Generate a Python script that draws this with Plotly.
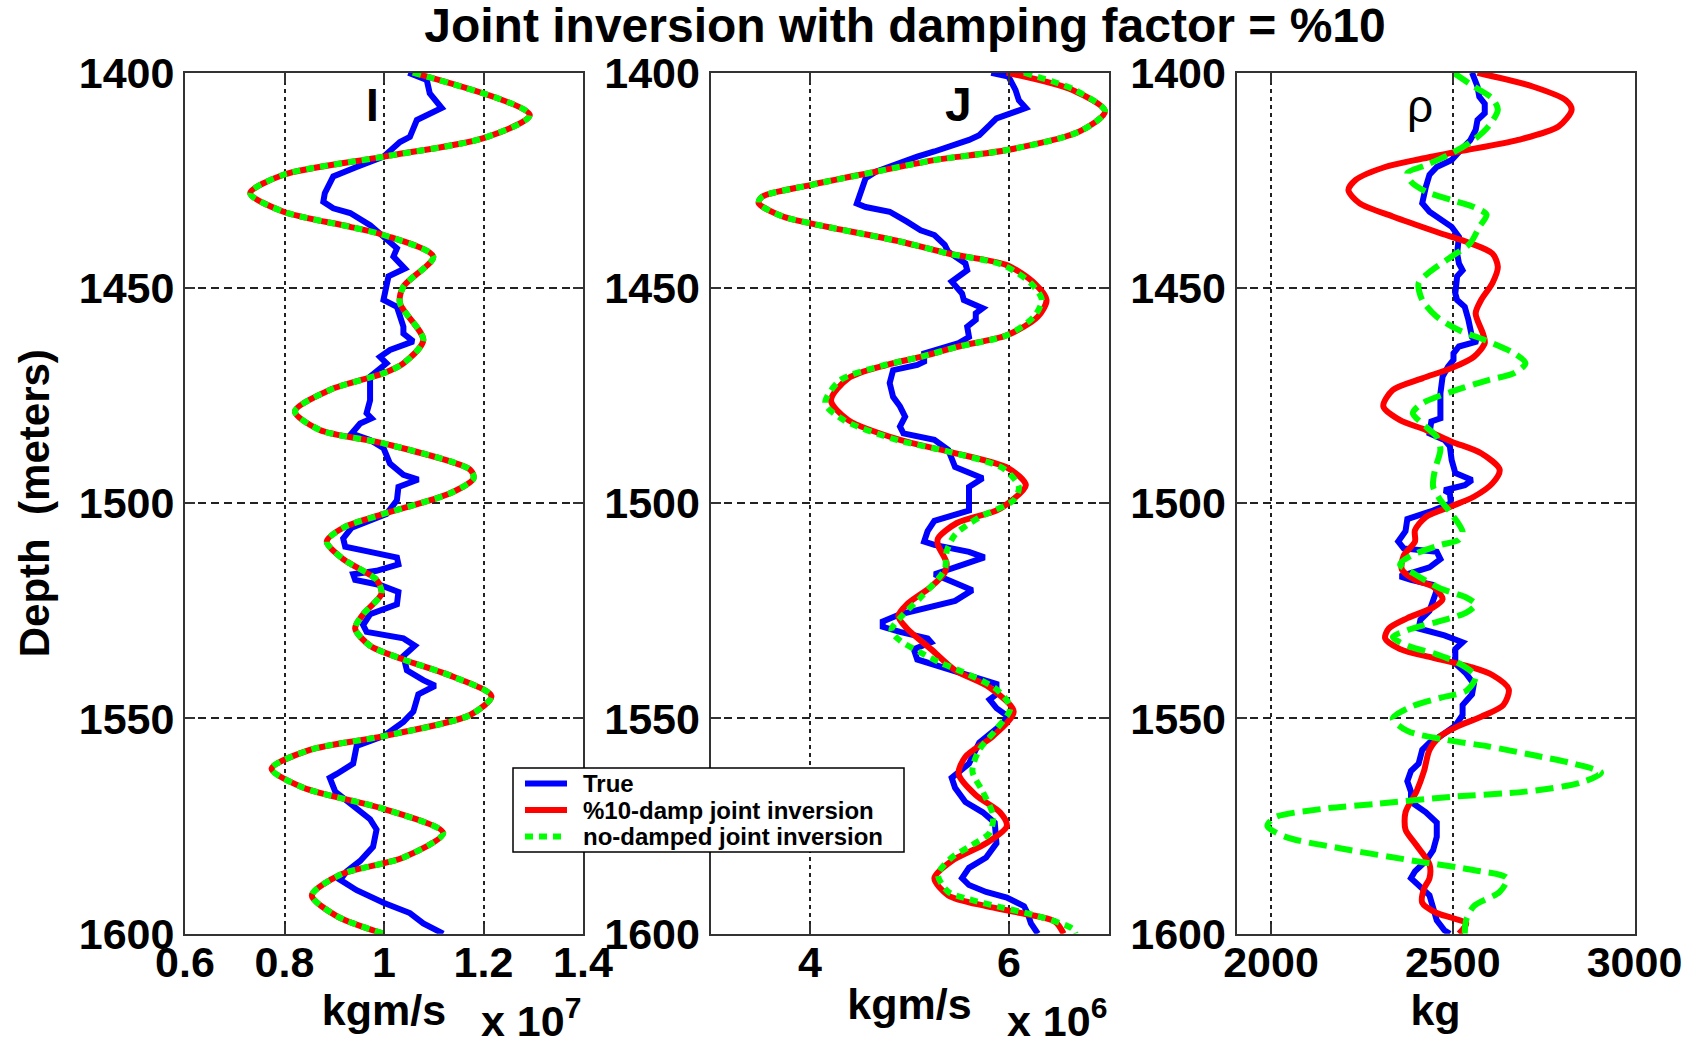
import plotly.graph_objects as go

# Depth (m), value pairs read along each log.
# Panel I: acoustic impedance in units of 1e7 kg m/s
I_TRUE = [(1400, 1.049), (1401.7, 1.086), (1404.8, 1.092), (1408.2, 1.116), (1411.0, 1.066), (1414.9, 1.052),
          (1416.1, 1.032), (1419.5, 0.999), (1421.9, 0.945), (1424.1, 0.898), (1428.0, 0.881), (1430.0, 0.878),
          (1431.5, 0.898), (1432.6, 0.932), (1435.4, 0.972), (1438.8, 1.005), (1440.8, 1.026), (1442.7, 1.019),
          (1445.5, 1.042), (1447.3, 1.009), (1451.3, 1.002), (1452.8, 0.999), (1454.4, 1.026), (1459.0, 1.039),
          (1460.6, 1.039), (1462.4, 1.059), (1464.4, 1.012), (1466.0, 0.992), (1467.5, 1.005), (1470.6, 0.972),
          (1476.1, 0.972), (1479.1, 0.965), (1480.3, 0.975), (1481.5, 0.952), (1483.8, 0.935), (1485.3, 0.972),
          (1487.2, 0.999), (1490.8, 1.012), (1493.4, 1.039), (1494.5, 1.069), (1496.2, 1.029), (1499.3, 1.026),
          (1502.5, 1.005), (1504.1, 0.972), (1505.7, 0.935), (1508.2, 0.918), (1510.1, 0.922), (1511.3, 0.972),
          (1512.6, 1.026), (1514.2, 1.029), (1515.7, 0.985), (1516.5, 0.938), (1517.8, 0.942), (1519.0, 0.992),
          (1520.6, 1.029), (1523.5, 1.026), (1525.8, 0.972), (1528.3, 0.958), (1529.9, 0.965), (1531.4, 1.039),
          (1533.1, 1.062), (1535.5, 1.039), (1538.8, 1.046), (1541.1, 1.079), (1542.4, 1.103), (1544.4, 1.069),
          (1548.4, 1.059), (1550.8, 1.039), (1554.1, 0.999), (1556.4, 0.945), (1560.5, 0.938), (1562.9, 0.905),
          (1563.8, 0.891), (1567.0, 0.902), (1570.2, 0.935), (1573.4, 0.972), (1575.8, 0.985), (1579.8, 0.978),
          (1583.1, 0.952), (1585.5, 0.925), (1587.5, 0.912), (1589.9, 0.945), (1592.8, 0.999), (1595.2, 1.052),
          (1597.6, 1.079), (1600, 1.119)]
I_DAMP = [(1400, 1.058), (1409.8, 1.293), (1415.2, 1.200), (1419.5, 0.999), (1423.7, 0.798), (1428.0, 0.731),
          (1432.3, 0.798), (1435.8, 0.932), (1437.7, 0.999), (1442.7, 1.099), (1449.7, 1.039), (1453.5, 1.032),
          (1462.1, 1.079), (1467.5, 1.039), (1469.8, 0.999), (1473.7, 0.891), (1478.7, 0.821), (1483.0, 0.871),
          (1486.1, 0.999), (1492.2, 1.173), (1494.2, 1.180), (1497.7, 1.133), (1502.5, 0.999), (1505.7, 0.918),
          (1508.9, 0.885), (1513.0, 0.918), (1517.8, 0.985), (1521.0, 0.995), (1525.8, 0.958), (1529.1, 0.942),
          (1533.1, 0.972), (1536.3, 1.039), (1540.3, 1.139), (1544.8, 1.216), (1549.2, 1.173), (1554.1, 0.999),
          (1557.3, 0.851), (1561.7, 0.774), (1566.1, 0.838), (1571.0, 0.999), (1576.6, 1.119), (1582.3, 1.039),
          (1586.3, 0.912), (1591.1, 0.855), (1595.9, 0.905), (1600, 0.999)]
I_NODAMP = [(1400, 1.058), (1409.8, 1.293), (1415.2, 1.200), (1419.5, 0.999), (1423.7, 0.798), (1428.0, 0.731),
            (1432.3, 0.798), (1435.8, 0.932), (1437.7, 0.999), (1442.7, 1.099), (1449.7, 1.039), (1453.5, 1.032),
            (1462.1, 1.079), (1467.5, 1.039), (1469.8, 0.999), (1473.7, 0.891), (1478.7, 0.821), (1483.0, 0.871),
            (1486.1, 0.999), (1492.2, 1.173), (1494.2, 1.180), (1497.7, 1.133), (1502.5, 0.999), (1505.7, 0.918),
            (1508.9, 0.885), (1513.0, 0.918), (1517.8, 0.985), (1521.0, 0.995), (1525.8, 0.958), (1529.1, 0.942),
            (1533.1, 0.972), (1536.3, 1.039), (1540.3, 1.139), (1544.8, 1.216), (1549.2, 1.173), (1554.1, 0.999),
            (1557.3, 0.851), (1561.7, 0.774), (1566.1, 0.838), (1571.0, 0.999), (1576.6, 1.119), (1582.3, 1.039),
            (1586.3, 0.912), (1591.1, 0.855), (1595.9, 0.905), (1600, 0.999)]

# Panel J: shear impedance in units of 1e6 kg m/s
J_TRUE = [(1400, 5.822), (1400.9, 5.995), (1404.0, 6.065), (1406.4, 6.099), (1408.2, 6.169), (1410.6, 5.874),
          (1412.2, 5.805), (1414.5, 5.701), (1415.6, 5.598), (1416.8, 5.458), (1418.3, 5.250), (1419.5, 5.078),
          (1421.1, 4.904), (1423.0, 4.662), (1424.5, 4.559), (1428.0, 4.507), (1430.4, 4.471), (1431.2, 4.559),
          (1432.3, 4.801), (1434.6, 4.974), (1436.6, 5.112), (1437.7, 5.250), (1440.0, 5.354), (1441.6, 5.390),
          (1444.3, 5.562), (1445.9, 5.580), (1448.5, 5.424), (1451.3, 5.528), (1452.8, 5.546), (1454.7, 5.736),
          (1455.9, 5.666), (1457.4, 5.666), (1459.0, 5.580), (1461.4, 5.598), (1462.8, 5.494), (1465.2, 5.147),
          (1467.1, 5.147), (1467.9, 5.078), (1469.1, 4.835), (1472.1, 4.801), (1475.3, 4.835), (1477.5, 4.904),
          (1479.9, 4.956), (1482.2, 4.904), (1483.8, 4.939), (1485.3, 5.250), (1487.6, 5.390), (1491.6, 5.458),
          (1493.0, 5.598), (1494.2, 5.736), (1496.2, 5.598), (1500.0, 5.598), (1501.7, 5.598), (1504.1, 5.250),
          (1506.5, 5.182), (1508.9, 5.147), (1509.7, 5.250), (1511.3, 5.598), (1512.6, 5.753), (1514.6, 5.494),
          (1516.5, 5.250), (1518.2, 5.424), (1520.2, 5.632), (1522.7, 5.458), (1524.6, 5.112), (1525.8, 4.904),
          (1527.5, 4.731), (1528.7, 4.731), (1529.9, 4.904), (1531.4, 5.182), (1532.3, 5.216), (1533.9, 5.043),
          (1536.3, 5.078), (1538.8, 5.424), (1540.3, 5.598), (1542.0, 5.874), (1544.4, 5.874), (1545.6, 5.805),
          (1547.6, 5.874), (1549.6, 5.995), (1551.7, 5.909), (1555.6, 5.701), (1560.5, 5.598), (1563.8, 5.424),
          (1566.1, 5.458), (1569.4, 5.562), (1571.8, 5.736), (1574.2, 5.857), (1579.0, 5.874), (1582.3, 5.770),
          (1584.7, 5.598), (1587.1, 5.528), (1588.7, 5.598), (1590.3, 5.770), (1591.6, 5.978), (1593.6, 6.151),
          (1595.2, 6.186), (1597.6, 6.221), (1600, 6.290)]
J_DAMP = [(1400, 5.978), (1404.0, 6.637), (1409.0, 6.965), (1413.7, 6.705), (1417.9, 5.995), (1420.3, 5.250),
          (1423.0, 4.662), (1426.1, 4.004), (1428.8, 3.520), (1430.3, 3.484), (1433.4, 3.727), (1435.0, 4.004),
          (1439.2, 4.904), (1442.0, 5.390), (1444.7, 5.978), (1448.9, 6.255), (1452.8, 6.377), (1456.7, 6.289),
          (1461.0, 5.978), (1463.6, 5.494), (1466.0, 5.112), (1467.9, 4.766), (1471.0, 4.385), (1476.1, 4.211),
          (1480.7, 4.385), (1485.3, 4.904), (1488.0, 5.390), (1491.9, 5.995), (1495.8, 6.169), (1499.5, 6.020),
          (1501.7, 5.874), (1504.6, 5.476), (1508.2, 5.286), (1509.7, 5.286), (1513.8, 5.372), (1516.1, 5.354),
          (1519.4, 5.216), (1523.5, 4.974), (1526.2, 4.887), (1529.1, 4.974), (1533.9, 5.216), (1538.8, 5.458),
          (1542.8, 5.805), (1548.4, 6.047), (1554.1, 5.840), (1558.9, 5.562), (1562.9, 5.494), (1567.8, 5.666),
          (1571.8, 5.909), (1575.0, 5.978), (1579.0, 5.770), (1583.1, 5.424), (1587.1, 5.250), (1591.1, 5.390),
          (1593.6, 5.770), (1595.2, 6.117), (1597.2, 6.463), (1600, 6.549)]
J_NODAMP = [(1400, 6.151), (1404.0, 6.660), (1409.0, 6.965), (1413.7, 6.705), (1417.9, 5.995), (1420.3, 5.250),
            (1423.0, 4.662), (1426.1, 4.004), (1428.8, 3.520), (1430.3, 3.484), (1433.4, 3.727), (1435.0, 4.004),
            (1439.2, 4.904), (1442.0, 5.390), (1444.7, 5.940), (1448.9, 6.220), (1452.8, 6.330), (1456.7, 6.250),
            (1461.0, 5.978), (1463.6, 5.494), (1466.0, 5.112), (1468.1, 4.720), (1471.5, 4.300), (1476.8, 4.153),
            (1480.7, 4.340), (1485.3, 4.870), (1488.0, 5.390), (1491.9, 5.940), (1496.2, 6.099), (1499.3, 6.047),
            (1503.3, 5.701), (1507.3, 5.458), (1511.3, 5.372), (1515.4, 5.354), (1521.9, 5.112), (1525.8, 4.939),
            (1529.5, 4.818), (1531.9, 4.904), (1534.7, 5.112), (1537.2, 5.320), (1538.8, 5.494), (1543.2, 5.874),
            (1547.6, 6.013), (1552.5, 5.874), (1557.3, 5.701), (1562.2, 5.632), (1567.0, 5.736), (1572.6, 5.840),
            (1576.6, 5.805), (1579.8, 5.598), (1582.3, 5.424), (1586.3, 5.286), (1590.3, 5.390), (1592.0, 5.598),
            (1594.0, 5.944), (1595.9, 6.289), (1598.8, 6.637), (1600, 6.670)]

# Panel rho: density in kg
R_TRUE = [(1400, 2553), (1403.2, 2568), (1405.6, 2573), (1407.2, 2588), (1409.4, 2588), (1411.0, 2568),
          (1413.3, 2563), (1415.7, 2548), (1417.5, 2527), (1420.3, 2497), (1421.9, 2456), (1423.7, 2436),
          (1426.5, 2426), (1430.3, 2416), (1432.3, 2436), (1434.2, 2466), (1435.8, 2497), (1438.1, 2517),
          (1442.0, 2512), (1444.3, 2517), (1445.9, 2527), (1447.3, 2512), (1451.3, 2507), (1452.8, 2512),
          (1454.4, 2533), (1457.4, 2543), (1461.4, 2553), (1462.4, 2568), (1463.6, 2517), (1465.2, 2502),
          (1466.7, 2502), (1468.3, 2487), (1470.6, 2472), (1474.5, 2466), (1478.3, 2466), (1480.3, 2466),
          (1481.0, 2441), (1483.8, 2436), (1485.3, 2477), (1486.8, 2492), (1490.0, 2497), (1493.0, 2507),
          (1494.6, 2553), (1495.8, 2533), (1497.0, 2477), (1497.7, 2492), (1500.0, 2495), (1501.7, 2446),
          (1503.7, 2375), (1506.5, 2370), (1508.9, 2350), (1510.5, 2365), (1511.3, 2456), (1513.0, 2466),
          (1514.9, 2436), (1516.1, 2385), (1517.0, 2355), (1517.8, 2385), (1519.0, 2446), (1520.2, 2456),
          (1522.7, 2446), (1525.0, 2436), (1527.1, 2411), (1529.1, 2406), (1530.7, 2477), (1532.3, 2527),
          (1533.9, 2507), (1537.2, 2507), (1539.6, 2537), (1542.0, 2558), (1544.4, 2553), (1546.9, 2527),
          (1549.2, 2527), (1551.7, 2507), (1554.1, 2466), (1555.6, 2436), (1557.3, 2416), (1560.5, 2406),
          (1562.2, 2385), (1564.6, 2375), (1567.0, 2385), (1569.4, 2385), (1571.8, 2426), (1574.2, 2456),
          (1577.5, 2456), (1580.6, 2446), (1583.1, 2426), (1585.5, 2396), (1587.1, 2385), (1588.8, 2406),
          (1591.1, 2436), (1594.0, 2446), (1596.9, 2456), (1599.2, 2477), (1600, 2492)]
R_DAMP = [(1400, 2568), (1403.2, 2720), (1406.4, 2811), (1408.6, 2827), (1412.5, 2791), (1415.6, 2680),
          (1418.3, 2517), (1420.3, 2396), (1421.9, 2314), (1424.9, 2233), (1427.3, 2213), (1430.3, 2243),
          (1433.4, 2335), (1437.0, 2456), (1439.6, 2548), (1442.0, 2609), (1445.1, 2624), (1448.9, 2609),
          (1452.8, 2578), (1455.9, 2563), (1460.6, 2583), (1462.8, 2588), (1466.0, 2558), (1468.6, 2497),
          (1471.0, 2416), (1473.7, 2335), (1477.5, 2309), (1480.7, 2355), (1483.0, 2426), (1485.7, 2497),
          (1488.4, 2578), (1492.2, 2629), (1495.4, 2609), (1498.5, 2558), (1500.7, 2497), (1503.2, 2426),
          (1506.3, 2396), (1508.9, 2396), (1512.2, 2365), (1515.4, 2360), (1517.8, 2396), (1519.4, 2446),
          (1522.3, 2472), (1524.2, 2446), (1526.7, 2375), (1529.1, 2324), (1531.4, 2314), (1533.9, 2355),
          (1535.9, 2446), (1538.0, 2548), (1539.9, 2609), (1543.2, 2654), (1546.9, 2639), (1549.6, 2578),
          (1551.7, 2517), (1554.1, 2466), (1557.3, 2436), (1562.2, 2421), (1567.0, 2400), (1571.8, 2370),
          (1575.8, 2370), (1579.0, 2396), (1583.9, 2436), (1587.1, 2436), (1589.5, 2421), (1592.8, 2416),
          (1595.2, 2456), (1596.3, 2497), (1597.6, 2537), (1600, 2517)]
R_NODAMP = [(1400, 2502), (1403.2, 2558), (1406.0, 2609), (1408.6, 2624), (1412.5, 2598), (1415.6, 2558),
            (1418.7, 2497), (1421.5, 2426), (1423.3, 2375), (1425.3, 2385), (1427.6, 2426), (1429.6, 2497),
            (1431.2, 2558), (1433.0, 2593), (1435.8, 2573), (1439.6, 2548), (1442.7, 2497), (1446.3, 2436),
            (1448.9, 2406), (1452.8, 2416), (1456.7, 2456), (1459.8, 2517), (1462.1, 2588), (1465.2, 2669),
            (1467.5, 2700), (1469.8, 2669), (1471.4, 2598), (1474.1, 2497), (1476.8, 2416), (1479.1, 2390),
            (1481.5, 2416), (1484.6, 2456), (1487.6, 2466), (1492.2, 2451), (1496.2, 2446), (1499.3, 2466),
            (1502.5, 2497), (1506.6, 2527), (1508.5, 2517), (1509.7, 2466), (1512.2, 2385), (1514.2, 2355),
            (1516.5, 2396), (1519.8, 2466), (1521.9, 2537), (1523.5, 2563), (1525.4, 2537), (1527.1, 2477),
            (1529.5, 2375), (1531.1, 2335), (1533.1, 2375), (1535.1, 2456), (1537.2, 2517), (1540.3, 2563),
            (1543.6, 2537), (1545.2, 2466), (1547.3, 2385), (1550.0, 2335), (1552.9, 2375), (1554.9, 2477),
            (1556.5, 2598), (1558.5, 2720), (1560.5, 2832), (1562.6, 2908), (1564.9, 2852), (1567.0, 2700),
            (1568.2, 2497), (1569.8, 2294), (1571.0, 2142), (1573.0, 2010), (1575.0, 1990), (1577.5, 2040),
            (1580.2, 2193), (1583.1, 2396), (1585.1, 2548), (1587.1, 2649), (1590.3, 2629), (1593.6, 2558),
            (1596.8, 2537), (1600, 2533)]

DEPTH_TICKS = [1400, 1450, 1500, 1550, 1600]
SERIES_NAMES = ["True", "%10-damp joint inversion", "no-damped joint inversion"]
PANEL_LABELS = ["I", "J", "\u03c1"]
X_TITLES = ["kgm/s", "kgm/s", "kg"]

FONT = "Liberation Sans, Arial, Helvetica, sans-serif"
BLUE, RED, GREEN = "#0000ff", "#ff0000", "#00ff00"
DOTS = "8px,6px"
W, H = 1696, 1044


def px(v):
    return v / W


def py(v):
    return 1 - v / H


def unzip(pairs):
    return [p[1] for p in pairs], [p[0] for p in pairs]


panels = [
    (I_TRUE, I_DAMP, I_NODAMP, DOTS),
    (J_TRUE, J_DAMP, J_NODAMP, DOTS),
    (R_TRUE, R_DAMP, R_NODAMP, "18px,8px"),
]

fig = go.Figure()
for k, (tr, dm, nd, green_dash) in enumerate(panels):
    xa = "x" if k == 0 else f"x{k + 1}"
    ya = "y" if k == 0 else f"y{k + 1}"
    x, y = unzip(tr)
    fig.add_trace(go.Scatter(x=x, y=y, xaxis=xa, yaxis=ya, mode="lines", name=SERIES_NAMES[0],
                             showlegend=False, line=dict(color=BLUE, width=6)))
    x, y = unzip(dm)
    fig.add_trace(go.Scatter(x=x, y=y, xaxis=xa, yaxis=ya, mode="lines", name=SERIES_NAMES[1],
                             showlegend=False,
                             line=dict(color=RED, width=6, shape="spline", smoothing=0.8)))
    x, y = unzip(nd)
    fig.add_trace(go.Scatter(x=x, y=y, xaxis=xa, yaxis=ya, mode="lines", name=SERIES_NAMES[2],
                             showlegend=False,
                             line=dict(color=GREEN, width=6, dash=green_dash, shape="spline", smoothing=0.8)))

tickfont = dict(family=FONT, size=43, color="black", weight="bold")
titlefont = dict(family=FONT, size=43, color="black", weight="bold")
common = dict(showline=True, linecolor="#333333", linewidth=2, mirror="ticks",
              ticks="inside", ticklen=10, tickwidth=1.5, tickcolor="#333333",
              showgrid=True, gridcolor="#222222", gridwidth=1.5, zeroline=False,
              tickfont=tickfont, automargin=False)

x_domains = [(185, 583), (710.5, 1108.5), (1236.5, 1634.5)]
y_domain = [py(933.7), py(72.7)]
x_ranges = [[0.6, 1.4], [3, 7], [1905, 3000]]
x_ticks = [([0.6, 0.8, 1.0, 1.2, 1.4], ["0.6", "0.8", "1", "1.2", "1.4"]),
           ([4, 6], ["4", "6"]),
           ([2000, 2500, 3000], ["2000", "2500", "3000"])]

layout = {}
for k in range(3):
    sfx = "" if k == 0 else str(k + 1)
    layout[f"xaxis{sfx}"] = dict(common, domain=[px(x_domains[k][0]), px(x_domains[k][1])],
                                 range=x_ranges[k], tickvals=x_ticks[k][0], ticktext=x_ticks[k][1],
                                 griddash="4px,4px", anchor=f"y{sfx}", ticklabelstandoff=-10,
                                 title=dict(text=X_TITLES[k], font=titlefont, standoff=4))
    layout[f"yaxis{sfx}"] = dict(common, domain=y_domain, range=[1600, 1400], tickvals=DEPTH_TICKS,
                                 griddash="8px,5px", anchor=f"x{sfx}")
layout["yaxis"]["title"] = dict(text="Depth  (meters)", font=dict(family=FONT, size=42, color="black", weight="bold"),
                                standoff=16)

fig.update_layout(**layout)

annotations = []
label_pos = [(372, 104.5, 46, "bold"), (958.5, 105, 48, "bold"), (1420, 106, 46, "normal")]
for lab, (lx, ly, fs, wt) in zip(PANEL_LABELS, label_pos):
    annotations.append(dict(text=lab, x=px(lx), y=py(ly), xref="paper", yref="paper",
                            xanchor="center", yanchor="middle", showarrow=False,
                            font=dict(family=FONT, size=fs, color="black", weight=wt)))
for exp, right in (("7", 583), ("6", 1108.5)):
    annotations.append(dict(text=f"x 10<sup>{exp}</sup>", x=px(right), y=0, xref="paper", yref="paper",
                            xanchor="right", yanchor="bottom", yshift=-3, showarrow=False,
                            font=dict(family=FONT, size=43, color="black", weight="bold")))

# Legend box drawn over the first two panels
shapes = [dict(type="rect", xref="paper", yref="paper", x0=px(513), x1=px(904), y0=py(852), y1=py(768),
               line=dict(color="black", width=1.5), fillcolor="white", layer="above")]
legend_rows = [(783.5, BLUE, "solid"), (810, RED, "solid"), (836.5, GREEN, DOTS)]
for name, (ry, col, dash) in zip(SERIES_NAMES, legend_rows):
    shapes.append(dict(type="line", xref="paper", yref="paper", x0=px(525), x1=px(567), y0=py(ry), y1=py(ry),
                       line=dict(color=col, width=6, dash=dash), layer="above"))
    annotations.append(dict(text=name, x=px(581), y=py(ry), xref="paper", yref="paper",
                            xanchor="left", yanchor="middle", showarrow=False,
                            font=dict(family=FONT, size=24, color="black", weight="bold")))

fig.update_layout(
    width=W, height=H, margin=dict(l=0, r=0, t=0, b=0, autoexpand=False),
    paper_bgcolor="white", plot_bgcolor="white", showlegend=False,
    title=dict(text="Joint inversion with damping factor = %10", x=px(905), xanchor="center",
               y=py(25), yanchor="middle",
               font=dict(family=FONT, size=48, color="black", weight="bold")),
    annotations=annotations,
    shapes=shapes,
)

fig.write_html("out.html")
